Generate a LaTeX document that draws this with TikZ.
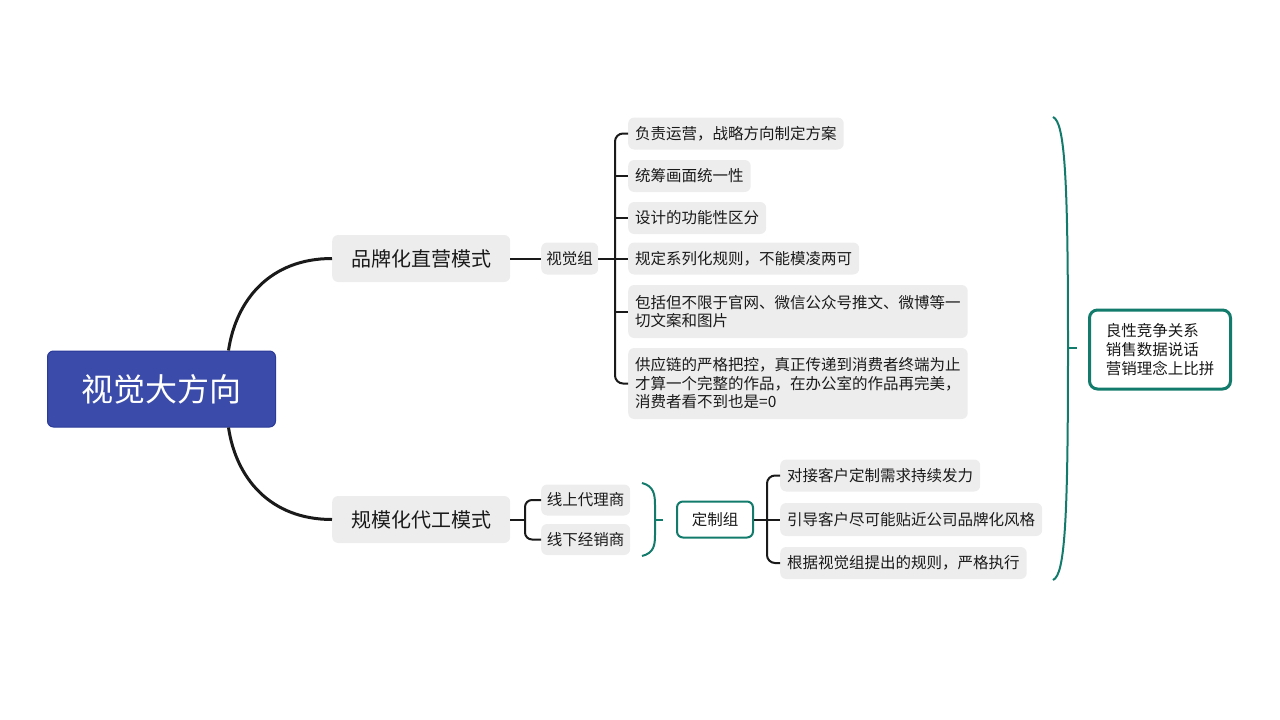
\documentclass[tikz,border=0pt]{standalone}
\usepackage{fontspec}
\setmainfont{Noto Sans CJK SC}
\usetikzlibrary{calc}
\definecolor{gbg}{HTML}{EDEDED}
\definecolor{tgreen}{HTML}{127B6B}
\definecolor{rootbg}{HTML}{3B4BAA}
\definecolor{rootbd}{HTML}{2A3A98}
\definecolor{ink}{HTML}{1A1A1A}
\begin{document}
\begin{tikzpicture}[x=1pt,y=-1pt,
  gbox/.style={fill=gbg, rounded corners=6pt, inner xsep=7pt, inner ysep=0pt, text=ink, anchor=west},
  leaf/.style={gbox, font=\fontsize{15.5}{18.5}\selectfont, minimum height=32pt, align=left},
  mainbox/.style={gbox, font=\fontsize{20}{24}\selectfont, minimum width=178pt, minimum height=47pt},
  midbox/.style={gbox, font=\fontsize{15.5}{18.5}\selectfont, inner xsep=5pt, minimum height=31pt},
  greenbox/.style={draw=tgreen, fill=white, text=ink, anchor=west, align=left},
  conn/.style={draw=ink, line width=2pt},
  brace/.style={draw=tgreen, line width=2pt}]
\useasboundingbox (0,0) rectangle (1280,720);

% root
\node[fill=rootbg, draw=rootbd, line width=1pt, rounded corners=6pt, anchor=west,
      minimum width=228pt, minimum height=76pt, text=white,
      font=\fontsize{32}{38}\selectfont] (root) at (47,389) {视觉大方向};

% main branches
\node[mainbox] (b1) at (332,258.5) {品牌化直营模式};
\node[mainbox] (b2) at (332,519.5) {规模化代工模式};

% visual group
\node[midbox, minimum width=57pt, minimum height=32pt] (v) at (541,258.5) {视觉组};
\node[leaf] (c1) at (628,133.5) {负责运营，战略方向制定方案};
\node[leaf] (c2) at (628,176) {统筹画面统一性};
\node[leaf] (c3) at (628,218) {设计的功能性区分};
\node[leaf] (c4) at (628,258.5) {规定系列化规则，不能模凌两可};
\node[leaf, minimum height=53pt] (c5) at (628,311.5) {包括但不限于官网、微信公众号推文、微博等一\\切文案和图片};
\node[leaf, minimum height=71pt] (c6) at (628,383.5) {供应链的严格把控，真正传递到消费者终端为止\\才算一个完整的作品，在办公室的作品再完美，\\消费者看不到也是=0};

% scale branch
\node[midbox, minimum width=89pt] (s1) at (541,500) {线上代理商};
\node[midbox, minimum width=89pt] (s2) at (541,539.5) {线下经销商};
\node[greenbox, line width=2pt, rounded corners=6pt, minimum width=76pt, minimum height=36pt,
      font=\fontsize{15.5}{18.5}\selectfont] (d) at (676,519.5) {定制组};
\node[leaf] (e1) at (780,475.5) {对接客户定制需求持续发力};
\node[leaf, minimum height=33pt] (e2) at (780,519.5) {引导客户尽可能贴近公司品牌化风格};
\node[leaf] (e3) at (780,563) {根据视觉组提出的规则，严格执行};

% right summary
\node[greenbox, line width=3pt, rounded corners=8pt, minimum width=141pt, minimum height=79pt,
      font=\fontsize{15.5}{19}\selectfont] (r) at (1088,349.5) {良性竞争关系\\销售数据说话\\营销理念上比拼};

% root connectors
\draw[ink, line width=3pt] ([xshift=67pt]root.north) .. controls (236,300) and (270,258.5) .. (b1.west);
\draw[ink, line width=3pt] ([xshift=67pt]root.south) .. controls (236,478) and (270,519.5) .. (b2.west);

% visual group connectors
\draw[conn] (b1.east) -- (v.west);
\coordinate (sp) at (615,258.5);
\draw[conn] (v.east) -- (c4.west);
\draw[conn, rounded corners=8pt] (c1.west) -| (sp) |- (c6.west);
\foreach \n in {c2,c3,c5} \draw[conn] (sp |- \n.west) -- (\n.west);

% scale connectors
\coordinate (sq) at (525,519.5);
\draw[conn] (b2.east) -- (sq);
\draw[conn, rounded corners=7pt] (s1.west) -| (sq) |- (s2.west);

% custom group connectors
\coordinate (sd) at (767,519.5);
\draw[conn] (d.east) -- (e2.west);
\draw[conn, rounded corners=8pt] (e1.west) -| (sd) |- (e3.west);

% green braces
\draw[brace] (642,483) .. controls (654,486) and (655,495) .. (655,505) -- (655,535) .. controls (655,545) and (654,553) .. (642,556);
\draw[brace] (655,519.5) -- (663,519.5);
\draw[brace] (1053,117) .. controls (1065,122) and (1068,180) .. (1068,348) .. controls (1068,520) and (1065,575) .. (1053,580);
\draw[brace] (1068,348) -- (1077,348);
\end{tikzpicture}
\end{document}
